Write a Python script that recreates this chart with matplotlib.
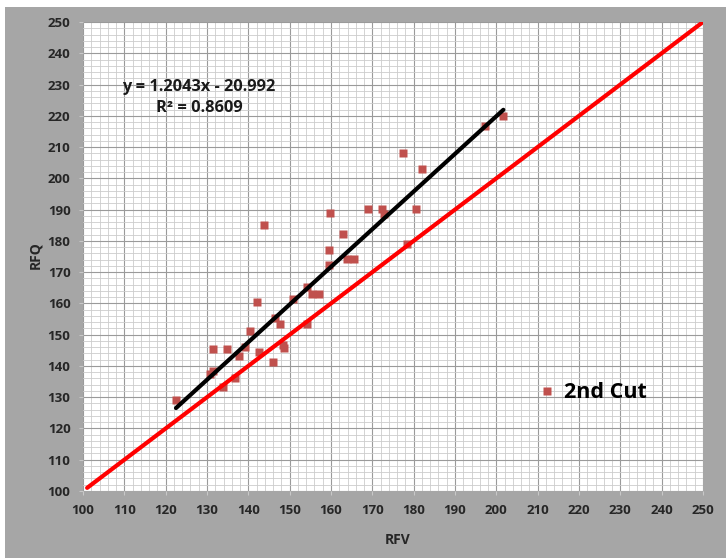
import matplotlib.pyplot as plt
import numpy as np
from matplotlib.patches import Rectangle

plt.rcParams['font.family'] = ['Open Sans', 'DejaVu Sans']

# 2nd cut samples
rfv = [122.5, 130.8, 131.4, 131.4, 133.8, 134.8, 136.8, 137.7, 139.1, 140.4,
       142.0, 142.7, 143.8, 145.9, 146.5, 147.7, 148.3, 148.6, 150.9, 154.1,
       154.3, 155.3, 157.0, 159.6, 159.6, 159.8, 163.0, 163.8, 165.6, 169.0,
       172.3, 172.8, 177.5, 178.3, 180.5, 181.9, 197.3, 201.7]
rfq = [129.0, 137.5, 138.5, 145.3, 133.2, 145.3, 136.2, 143.3, 146.1, 151.3,
       160.3, 144.3, 185.1, 141.4, 155.3, 153.3, 146.7, 145.8, 161.3, 153.4,
       165.2, 163.1, 163.1, 172.3, 177.1, 189.0, 182.2, 174.1, 174.1, 190.2,
       190.2, 188.5, 208.0, 179.0, 190.2, 203.0, 216.8, 220.0]

slope = 1.2043
intercept = -20.992
r2 = 0.8609
one_to_one = [101, 250]

fig = plt.figure(figsize=(7.26, 5.58), dpi=100, facecolor='white')
fig.patches.append(Rectangle((5 / 726, 0), 1, 1 - 7 / 558, transform=fig.transFigure,
                             facecolor='#a6a6a6', edgecolor='none', zorder=-1))
ax = fig.add_axes([83 / 726, 1 - 491 / 558, 620 / 726, 469 / 558])
ax.set_facecolor('white')

ax.set_xlim(100, 250)
ax.set_ylim(100, 250)
ax.set_xticks(np.arange(100, 251, 10))
ax.set_yticks(np.arange(100, 251, 10))
ax.set_xticks(np.arange(100, 251, 2), minor=True)
ax.set_yticks(np.arange(100, 251, 2), minor=True)
ax.grid(which='major', color='#9a9a9a', lw=0.8)
ax.grid(which='minor', color='#cccccc', lw=0.6)
ax.set_axisbelow(True)
for s in ax.spines.values():
    s.set_visible(False)
ax.tick_params(which='minor', length=0)
ax.tick_params(which='major', length=3, color='#c8c8c8', labelsize=9.5, pad=6,
               labelcolor='#262626')
for lbl in ax.get_xticklabels() + ax.get_yticklabels():
    lbl.set_fontweight('bold')

ax.plot(one_to_one, one_to_one, color='#ff0000', lw=3, solid_capstyle='round', zorder=3)
xf = np.array([min(rfv), max(rfv)])
ax.plot(xf, slope * xf + intercept, color='black', lw=3, solid_capstyle='round', zorder=4)
ax.plot(rfv, rfq, 's', color='#c0504d', ms=6, mec='none', zorder=2, label='2nd Cut')

fig.text(199 / 726, 1 - 87 / 558, 'y = %.4fx - %.3f' % (slope, -intercept), fontsize=11.8,
         fontweight='bold', ha='center', va='center', color='#1a1a1a')
fig.text(199 / 726, 1 - 108 / 558, 'R² = %.4f' % r2, fontsize=11.8, fontweight='bold',
         ha='center', va='center', color='#1a1a1a')

ax.legend(loc='center left', bbox_to_anchor=(521 / 726, 1 - 393 / 558),
          bbox_transform=fig.transFigure, frameon=False,
          prop={'weight': 'bold', 'size': 15.5}, handlelength=0.6, handletextpad=0.5,
          markerscale=1.0)

fig.text(398 / 726, 1 - 540 / 558, 'RFV', fontsize=10, fontweight='bold',
         ha='center', va='center', color='#262626')
fig.text(35 / 726, 1 - 255 / 558, 'RFQ', fontsize=10, fontweight='bold', rotation=90,
         ha='center', va='center', color='#262626')

fig.savefig('out.png', dpi=100, facecolor=fig.get_facecolor())
